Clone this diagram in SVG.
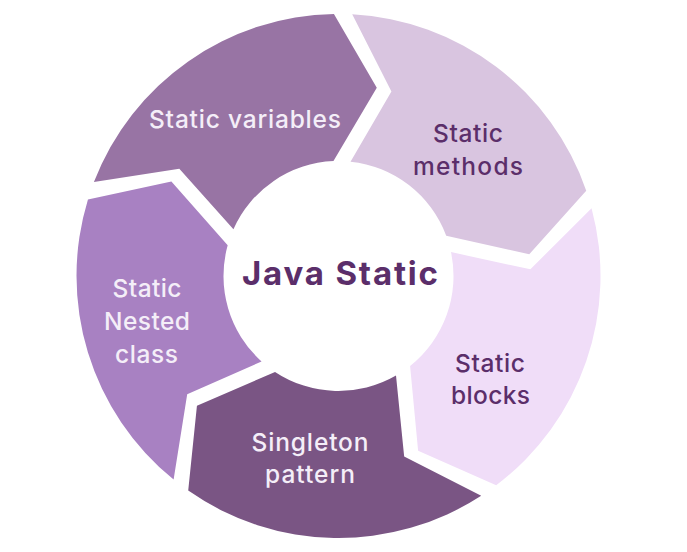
<svg xmlns="http://www.w3.org/2000/svg" width="687" height="552" viewBox="0 0 687 552">
<style>
.lbl{font-family:Inter,"Open Sans","Liberation Sans",sans-serif;font-size:24.5px;font-weight:500;text-anchor:middle}
.lt{fill:#f4eef8}
.dk{fill:#5b2e6a}
.title{font-family:Inter,"Open Sans","Liberation Sans",sans-serif;font-size:33px;font-weight:700;fill:#5b2e6a;text-anchor:middle}
</style>
<rect width="687" height="552" fill="#ffffff"/>
<g id="static-variables">
<path fill="#9874a4" d="M93.90,182.11 A262,262 0 0 1 333.93,14.04 L376.78,87.85 L333.48,161.11 A115,115 0 0 0 233.44,229.22 L179.32,168.63 Z"/>
<text class="lbl lt" x="245" y="128" textLength="192" lengthAdjust="spacing">Static variables</text>
</g>
<g id="static-methods">
<path fill="#d9c5e0" d="M352.21,14.36 A262,262 0 0 1 586.23,190.70 L529.27,254.27 L446.22,235.73 A115,115 0 0 0 350.52,161.63 L391.42,91.44 Z"/>
<text class="lbl dk" x="468" y="142" textLength="70" lengthAdjust="spacing">Static</text>
<text class="lbl dk" x="468" y="175" textLength="110" lengthAdjust="spacing">methods</text>
</g>
<g id="static-blocks">
<path fill="#f0ddf8" d="M591.57,208.19 A262,262 0 0 1 496.18,485.24 L418.12,450.71 L410.09,366.00 A115,115 0 0 0 450.99,252.09 L530.38,269.30 Z"/>
<text class="lbl dk" x="490" y="372" textLength="70" lengthAdjust="spacing">Static</text>
<text class="lbl dk" x="490.5" y="404" textLength="79" lengthAdjust="spacing">blocks</text>
</g>
<g id="singleton-pattern">
<path fill="#7a5584" d="M481.20,495.73 A262,262 0 0 1 188.22,490.62 L196.94,405.71 L275.03,371.90 A115,115 0 0 0 396.00,375.59 L404.17,456.42 Z"/>
<text class="lbl lt" x="310" y="451" textLength="117" lengthAdjust="spacing">Singleton</text>
<text class="lbl lt" x="310" y="483" textLength="90" lengthAdjust="spacing">pattern</text>
</g>
<g id="static-nested-class">
<path fill="#a881c2" d="M173.62,479.61 A262,262 0 0 1 87.95,199.40 L171.39,181.45 L227.68,245.27 A115,115 0 0 0 261.55,361.46 L187.20,394.21 Z"/>
<text class="lbl lt" x="147" y="297" textLength="69" lengthAdjust="spacing">Static</text>
<text class="lbl lt" x="147" y="330" textLength="86" lengthAdjust="spacing">Nested</text>
<text class="lbl lt" x="146.5" y="363" textLength="63" lengthAdjust="spacing">class</text>
</g>
<g id="java-static">
<text class="title" x="340" y="285" textLength="196" lengthAdjust="spacing">Java Static</text>
</g>
</svg>
